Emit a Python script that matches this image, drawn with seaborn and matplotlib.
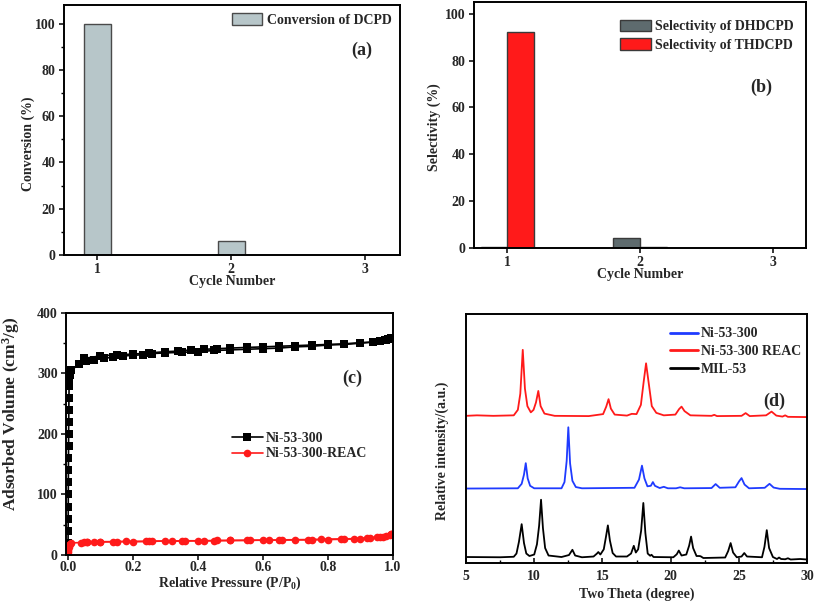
import matplotlib
matplotlib.use("Agg")
import matplotlib.pyplot as plt
import seaborn as sns
import pandas as pd
from matplotlib.ticker import MultipleLocator

# ---------------- data ----------------
cycles = ["1", "2", "3"]
conversion_dcpd = [100.0, 6.0, 0.0]
sel_dhdcpd = [0.5, 4.4, 0.2]
sel_thdcpd = [92.2, 0.3, 0.2]

# N2 isotherms (P/P0, cm3/g)
ni_ads_p = [0.0, 0.0003, 0.0005, 0.0007, 0.0009, 0.001, 0.0012, 0.0014, 0.0016, 0.0018, 0.002, 0.0023,
            0.0026, 0.003, 0.0035, 0.004, 0.006, 0.01, 0.035, 0.056, 0.08, 0.11, 0.14, 0.17, 0.2, 0.23,
            0.26, 0.3, 0.35, 0.4, 0.45, 0.5, 0.55, 0.6, 0.65, 0.7, 0.75, 0.8, 0.85, 0.9, 0.94, 0.96, 0.975,
            0.985, 0.995]
ni_ads_v = [0.0, 20, 40, 60, 80, 100, 120, 140, 160, 180, 200, 220,
            240, 260, 280, 290, 298, 305, 316, 320, 323, 325, 327, 329, 330, 331,
            333, 334, 335, 336, 338, 339, 340, 341, 342, 344, 345, 347, 348, 350, 352, 354, 355,
            357, 359]
ni_des_p = [0.995, 0.98, 0.96, 0.94, 0.9, 0.85, 0.8, 0.75, 0.7, 0.65, 0.6, 0.55, 0.5, 0.46, 0.42,
            0.38, 0.34, 0.3, 0.25, 0.2, 0.15, 0.1, 0.05]
ni_des_v = [359, 356, 354, 352, 351, 349, 348, 347, 346, 345, 344, 343, 342, 341, 340,
            339, 337, 336, 334, 332, 331, 329, 325]
reac_ads_p = [0.0, 0.0005, 0.001, 0.002, 0.004, 0.007, 0.01, 0.04, 0.06, 0.08, 0.1, 0.15, 0.2, 0.25,
              0.3, 0.35, 0.4, 0.45, 0.5, 0.55, 0.6, 0.65, 0.7, 0.75, 0.8, 0.85, 0.9, 0.93, 0.95,
              0.97, 0.98, 0.99, 0.995]
reac_ads_v = [0.0, 5, 9, 13, 16, 18, 20, 20.5, 21, 21, 21.5, 22, 22, 22.5,
              23, 23, 23.5, 23.5, 24, 24, 24.5, 24.5, 25, 25, 25.5, 26, 27, 28, 29,
              30, 31, 33, 35]
reac_des_p = [0.995, 0.96, 0.92, 0.88, 0.84, 0.78, 0.74, 0.66, 0.62, 0.56, 0.5, 0.46, 0.42, 0.36,
              0.32, 0.26, 0.24, 0.18, 0.14, 0.1, 0.06, 0.05]
reac_des_v = [35, 30, 28, 27, 26.5, 26, 25.5, 25, 24.5, 24.5, 24, 24, 23.5, 23.5,
              23, 23, 22.5, 22.5, 22, 22, 21.5, 21.5]

# XRD patterns (2theta, relative intensity)
mil_x = [5.0, 7.5, 8.5, 8.7, 8.88, 9.08, 9.25, 9.42, 9.65, 10.0, 10.2, 10.36, 10.5, 10.64, 10.8,
         11.05, 12.0, 12.55, 12.8, 13.0, 13.5, 14.35, 14.6, 14.7, 14.85, 15.1, 15.26, 15.4, 15.55,
         15.75, 16.0, 16.8, 17.1, 17.3, 17.45, 17.62, 17.84, 18.0, 18.15, 18.32, 18.5, 18.6, 18.75,
         20.2, 20.45, 20.6, 20.8, 21.15, 21.36, 21.5, 21.65, 21.9, 22.1, 22.2, 22.4, 24.0, 24.22,
         24.4, 24.58, 24.85, 25.2, 25.4, 25.6, 26.7, 26.88, 27.05, 27.22, 27.5, 27.8, 27.95, 28.1,
         28.4, 28.6, 28.8, 29.5, 30.0]
mil_y = [2.4, 2.3, 2.5, 3.8, 8.5, 15.6, 8.0, 3.8, 2.8, 3.4, 7.5, 15.0, 25.4, 14.0, 6.0,
         3.0, 2.4, 3.2, 5.3, 3.0, 2.3, 2.6, 3.8, 4.4, 3.4, 5.5, 10.5, 15.1, 9.0,
         4.0, 2.6, 2.6, 3.8, 6.9, 4.2, 5.5, 13.0, 24.1, 12.0, 3.8, 2.9, 3.3, 2.4,
         2.3, 3.5, 5.0, 3.0, 3.4, 7.0, 10.6, 6.0, 2.8, 2.8, 2.7, 2.0, 2.2, 4.8,
         8.0, 4.2, 2.3, 2.6, 4.0, 2.6, 2.3, 6.5, 13.2, 6.0, 2.4, 1.6, 2.2, 1.6,
         1.5, 1.9, 1.4, 1.6, 1.4]
ni_x = [5.0, 8.8, 9.08, 9.25, 9.38, 9.52, 9.7, 10.0, 12.0, 12.22, 12.38, 12.5, 12.63, 12.8, 13.05,
        13.5, 17.35, 17.68, 17.9, 18.08, 18.3, 18.55, 18.7, 18.85, 19.2, 19.5, 19.8, 20.4, 20.7,
        21.0, 23.0, 23.3, 23.6, 24.75, 25.02, 25.2, 25.42, 25.75, 26.9, 27.25, 27.55, 28.0, 30.0]
ni_y = [29.9, 30.0, 31.8, 35.5, 40.1, 34.0, 31.0, 30.0, 30.0, 32.5, 41.0, 54.5, 40.0, 33.0, 30.5,
        30.0, 30.2, 33.5, 39.1, 34.0, 30.8, 31.0, 32.5, 31.0, 30.1, 30.6, 30.0, 30.0, 30.4,
        30.0, 30.1, 31.7, 30.2, 30.4, 32.8, 34.1, 31.5, 30.0, 30.2, 31.8, 30.3, 29.8, 29.7]
reac_x = [5.0, 5.8, 7.0, 8.5, 8.8, 8.98, 9.16, 9.32, 9.5, 9.75, 9.95, 10.13, 10.3, 10.47, 10.75,
          11.5, 14.0, 15.05, 15.28, 15.45, 15.62, 15.9, 16.8, 17.15, 17.5, 17.82, 18.03, 18.2, 18.4,
          18.62, 18.95, 19.5, 20.35, 20.62, 20.8, 21.02, 21.45, 23.0, 23.2, 23.4, 25.2, 25.5, 25.8,
          27.0, 27.4, 27.75, 28.2, 28.4, 28.6, 30.0]
reac_y = [59.1, 59.3, 59.1, 59.3, 61.5, 68.0, 85.6, 70.0, 63.0, 60.5, 61.5, 64.5, 69.1, 63.0, 60.0,
          59.1, 59.0, 59.8, 62.8, 65.8, 62.0, 59.6, 59.2, 59.9, 59.8, 63.5, 73.0, 80.2, 72.0,
          63.0, 60.3, 59.3, 59.6, 61.8, 62.8, 61.0, 59.3, 59.1, 59.5, 59.0, 59.1, 60.2, 59.0,
          59.3, 60.8, 59.2, 58.8, 59.3, 58.7, 58.6]

# ---------------- style ----------------
sns.set_theme(style="ticks")
plt.rcParams.update({
    "font.family": ["Liberation Serif", "DejaVu Serif"],
    "font.weight": "bold",
    "axes.labelweight": "bold",
    "axes.linewidth": 1.4,
    "mathtext.fontset": "custom",
    "mathtext.rm": "Liberation Serif:bold",
    "mathtext.it": "Liberation Serif:bold",
    "mathtext.bf": "Liberation Serif:bold",
    "mathtext.default": "rm",
    "xtick.labelsize": 10,
    "ytick.labelsize": 10,
    "axes.labelsize": 10,
    "legend.fontsize": 10,
})

fig = plt.figure(figsize=(8.15, 6.02), dpi=100)
ax_a = fig.add_axes([0.0785, 0.5764, 0.4123, 0.4153])
ax_b = fig.add_axes([0.5816, 0.588, 0.4074, 0.4086])
ax_c = fig.add_axes([0.081, 0.0781, 0.4012, 0.402])
ax_d = fig.add_axes([0.5718, 0.0648, 0.4184, 0.4136])

def frame(ax):
    for s in ax.spines.values():
        s.set_visible(True)
        s.set_linewidth(1.4)
        s.set_color("black")
    ax.tick_params(which="major", length=3.5, width=1.1, color="black", direction="out", pad=2.5)
    ax.tick_params(which="minor", length=2, width=1.0, color="black", direction="out")

# ---- (a) ----
df_a = pd.DataFrame({"cycle": cycles, "value": conversion_dcpd,
                     "series": ["Conversion of DCPD"] * 3})
sns.barplot(data=df_a, x="cycle", y="value", hue="series", palette=["#B7C6C9"], saturation=1,
            width=0.2, edgecolor="#4a4a4a", linewidth=1.0, ax=ax_a, dodge=False)
ax_a.set_xlim(-0.25, 2.26)
ax_a.set_ylim(0, 108)
ax_a.set_yticks([0, 20, 40, 60, 80, 100])
ax_a.yaxis.set_minor_locator(MultipleLocator(10))
ax_a.set_xlabel("Cycle Number", labelpad=-1)
ax_a.set_ylabel("Conversion (%)")
ax_a.yaxis.set_label_coords(-0.085, 0.446)
frame(ax_a)
ax_a.legend(loc="upper right", frameon=False, handlelength=2.2, handleheight=0.9,
            borderaxespad=0.2, handletextpad=0.35)
ax_a.text(0.885, 0.82, "(a)", transform=ax_a.transAxes, fontsize=13, fontweight="bold",
          ha="center", va="center")

# ---- (b) ----
df_b = pd.DataFrame({"cycle": cycles * 2,
                     "value": sel_dhdcpd + sel_thdcpd,
                     "series": ["Selectivity of DHDCPD"] * 3 + ["Selectivity of THDCPD"] * 3})
sns.barplot(data=df_b, x="cycle", y="value", hue="series", palette=["#5E6B6E", "#FF1A1A"],
            saturation=1, width=0.4, edgecolor="#3a3a3a", linewidth=1.0, ax=ax_b)
ax_b.set_xlim(-0.25, 2.25)
ax_b.set_ylim(0, 105)
ax_b.set_yticks([0, 20, 40, 60, 80, 100])
ax_b.set_xlabel("Cycle Number", labelpad=-1)
ax_b.set_ylabel("Selectivity (%)")
ax_b.yaxis.set_label_coords(-0.1, 0.49)
frame(ax_b)
ax_b.legend(loc="upper right", bbox_to_anchor=(0.98, 0.95), frameon=False, handlelength=2.2,
            handleheight=0.9, borderaxespad=0.0, handletextpad=0.3, labelspacing=0.35)
ax_b.text(0.865, 0.655, "(b)", transform=ax_b.transAxes, fontsize=13, fontweight="bold",
          ha="center", va="center")

# ---- (c) ----
rows = []
for p, v in zip(ni_ads_p, ni_ads_v):
    rows.append((p, v, "Ni-53-300", "ni_ads"))
for p, v in zip(ni_des_p, ni_des_v):
    rows.append((p, v, "Ni-53-300", "ni_des"))
for p, v in zip(reac_ads_p, reac_ads_v):
    rows.append((p, v, "Ni-53-300-REAC", "r_ads"))
for p, v in zip(reac_des_p, reac_des_v):
    rows.append((p, v, "Ni-53-300-REAC", "r_des"))
df_c = pd.DataFrame(rows, columns=["p", "v", "sample", "branch"])
sns.lineplot(data=df_c, x="p", y="v", hue="sample", style="sample", units="branch",
             estimator=None, sort=False, palette=["black", "#FF1A1A"],
             markers={"Ni-53-300": "s", "Ni-53-300-REAC": "o"}, dashes=False,
             markersize=5.5, markeredgewidth=0, linewidth=1.2, ax=ax_c)
ax_c.set_xlim(-0.006, 1.0)
ax_c.set_ylim(0, 400)
ax_c.set_xticks([0.0, 0.2, 0.4, 0.6, 0.8, 1.0])
ax_c.set_yticks([0, 100, 200, 300, 400])
ax_c.yaxis.set_minor_locator(MultipleLocator(50))
ax_c.set_xlabel("Relative Pressure (P/P$_0$)", labelpad=0.5)
ax_c.set_ylabel("Adsorbed Volume (cm$^3$/g)", fontsize=12.5)
ax_c.yaxis.set_label_coords(-0.135, 0.583)
frame(ax_c)
ax_c.tick_params(axis="x", pad=1.0)
ax_c.legend(loc="center left", bbox_to_anchor=(0.47, 0.45), frameon=False,
            handlelength=2.2, handletextpad=0.25, labelspacing=0.2)
ax_c.text(0.875, 0.73, "(c)", transform=ax_c.transAxes, fontsize=13, fontweight="bold",
          ha="center", va="center")

# ---- (d) ----
df_d = pd.concat([
    pd.DataFrame({"t": ni_x, "i": ni_y, "sample": "Ni-53-300"}),
    pd.DataFrame({"t": reac_x, "i": reac_y, "sample": "Ni-53-300 REAC"}),
    pd.DataFrame({"t": mil_x, "i": mil_y, "sample": "MIL-53"}),
])
sns.lineplot(data=df_d, x="t", y="i", hue="sample", units="sample", estimator=None,
             sort=False, palette=["#1F3BFF", "#FF1A1A", "black"], linewidth=1.3, ax=ax_d)
ax_d.set_xlim(5, 30)
ax_d.set_ylim(0, 100)
ax_d.set_xticks([5, 10, 15, 20, 25, 30])
ax_d.xaxis.set_minor_locator(MultipleLocator(2.5))
ax_d.set_yticks([])
ax_d.set_xlabel("Two Theta (degree)", labelpad=3)
ax_d.set_ylabel("Relative intensity/(a.u.)")
ax_d.yaxis.set_label_coords(-0.05, 0.452)
frame(ax_d)
ax_d.tick_params(axis="x", which="both", direction="in", pad=5)
leg = ax_d.legend(loc="upper left", bbox_to_anchor=(0.57, 0.985), frameon=False,
                  handlelength=2.0, handletextpad=0.2, labelspacing=0.35, borderaxespad=0.3)
for ln in leg.get_lines():
    ln.set_linewidth(2)
ax_d.text(0.905, 0.65, "(d)", transform=ax_d.transAxes, fontsize=13, fontweight="bold",
          ha="center", va="center")

fig.savefig("out.png", dpi=100)
